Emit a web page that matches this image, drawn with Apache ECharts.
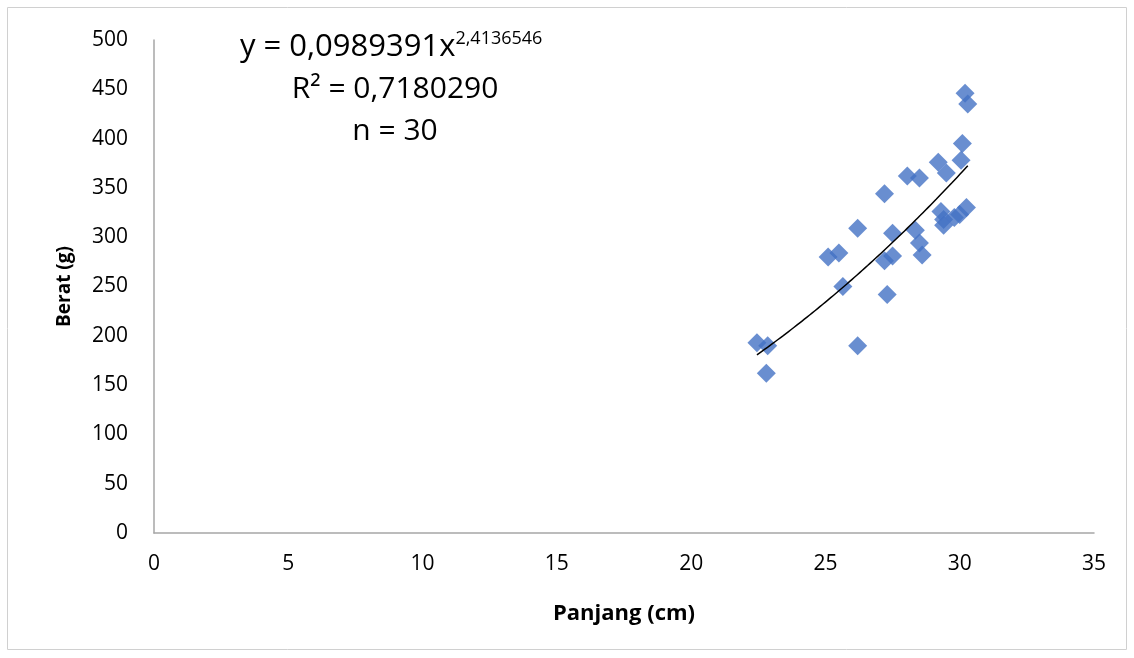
<!DOCTYPE html>
<html>
<head>
    <meta charset="utf-8" />
    <script src="https://cdn.jsdelivr.net/npm/echarts@6/dist/echarts.min.js"></script>
    <title></title>
    <style>
        html, body { margin: 0; padding: 0; background: #fff; }
    </style>
</head>
<body>
    <div id="main" style="width: 1134px;height:658px;"></div>
</body>
</html>
<script>
    // data
    var panjang = [22.45, 22.85, 22.8, 26.2, 27.3, 25.65, 25.1, 25.5, 26.2, 27.2,
                   27.2, 27.5, 27.5, 28.05, 28.5, 28.35, 28.5, 28.6, 29.2, 29.5,
                   30.05, 30.1, 30.2, 30.3, 29.3, 29.4, 29.8, 30.25, 30.0, 29.4];
    var berat = [193, 190, 162, 190, 242, 250, 280, 284, 309, 344,
                 276, 281, 304, 362, 360, 307, 294, 282, 376, 365,
                 378, 395, 446, 435, 326, 312, 320, 330, 323, 318];
    var xTicks = [0, 5, 10, 15, 20, 25, 30, 35];
    var yTicks = [0, 50, 100, 150, 200, 250, 300, 350, 400, 450, 500];
    // power trend line shown on the chart: y = a * x^b
    var trendA = 0.0989391;
    var trendB = 2.4136546;
    var trendFrom = 22.45, trendTo = 30.3;

    var points = [];
    for (var i = 0; i < panjang.length; i++) {
        points.push([panjang[i], berat[i]]);
    }
    var trend = [];
    for (var j = 0; j <= 40; j++) {
        var xv = trendFrom + (trendTo - trendFrom) * j / 40;
        trend.push([xv, trendA * Math.pow(xv, trendB)]);
    }

    var font = 'Open Sans';
    var chart = echarts.init(document.getElementById('main'));
    var option = {
        animation: false,
        grid: { left: 154, right: 40, top: 40, bottom: 125 },
        xAxis: {
            type: 'value',
            min: xTicks[0],
            max: xTicks[xTicks.length - 1],
            interval: 5,
            name: 'Panjang (cm)',
            nameLocation: 'middle',
            nameGap: 70,
            nameTextStyle: { fontFamily: font, fontWeight: 'bold', fontSize: 22, color: '#000' },
            axisLine: { lineStyle: { color: '#a6a6a6', width: 1.5 } },
            axisTick: { show: false },
            splitLine: { show: false },
            axisLabel: { fontFamily: font, fontSize: 21, color: '#000', margin: 21 }
        },
        yAxis: {
            type: 'value',
            min: yTicks[0],
            max: yTicks[yTicks.length - 1],
            interval: 50,
            name: 'Berat (g)',
            nameLocation: 'middle',
            nameGap: 80,
            nameRotate: 90,
            nameTextStyle: { fontFamily: font, fontWeight: 'bold', fontSize: 19, color: '#000' },
            axisLine: { show: true, lineStyle: { color: '#a6a6a6', width: 1.5 } },
            axisTick: { show: false },
            splitLine: { show: false },
            axisLabel: { fontFamily: font, fontSize: 21, color: '#000', margin: 26 }
        },
        series: [
            {
                type: 'scatter',
                data: points,
                symbol: 'diamond',
                symbolSize: 19,
                itemStyle: { color: '#4472c4' },
                z: 2
            },
            {
                type: 'line',
                data: trend,
                showSymbol: false,
                smooth: true,
                lineStyle: { color: '#000', width: 1.5 },
                z: 3
            }
        ],
        graphic: [
            {
                type: 'rect',
                shape: { x: 7.5, y: 7.5, width: 1119, height: 642 },
                style: { fill: 'none', stroke: '#d0d0d0', lineWidth: 1 },
                silent: true
            },
            {
                type: 'text',
                left: 240,
                top: 30,
                style: {
                    text: '{b|y = 0,0989391x}{s|2,4136546}',
                    rich: {
                        b: { fontFamily: font, fontSize: 31, color: '#000', verticalAlign: 'bottom' },
                        s: { fontFamily: font, fontSize: 18, color: '#000', verticalAlign: 'top', padding: [0, 0, 15, 0] }
                    }
                }
            },
            {
                type: 'text',
                x: 395,
                y: 89,
                style: {
                    text: 'R² = 0,7180290',
                    fontFamily: font, fontSize: 30, fill: '#000',
                    textAlign: 'center', textVerticalAlign: 'middle'
                }
            },
            {
                type: 'text',
                x: 395,
                y: 131,
                style: {
                    text: 'n = 30',
                    fontFamily: font, fontSize: 30, fill: '#000',
                    textAlign: 'center', textVerticalAlign: 'middle'
                }
            }
        ]
    };
    chart.setOption(option);
</script>
